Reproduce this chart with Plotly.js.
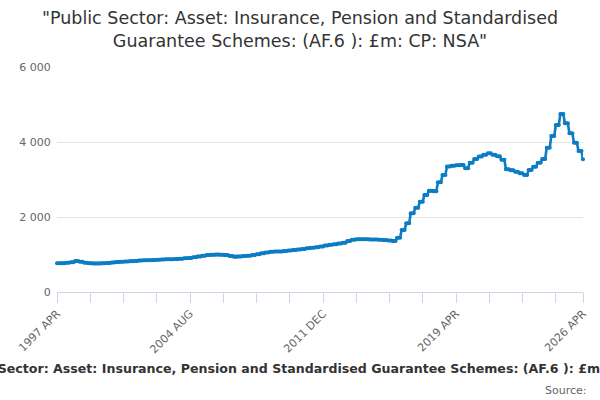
<!DOCTYPE html>
<html>
<head>
<meta charset="utf-8">
<script src="https://cdn.plot.ly/plotly-3.0.1.min.js"></script>
<style>
html,body{margin:0;padding:0;background:#fff;}
#chart{width:600px;height:400px;}
</style>
</head>
<body>
<div id="chart"></div>
<script>
// Month names used for category labels
var MONTH_NAMES = ["JAN","FEB","MAR","APR","MAY","JUN","JUL","AUG","SEP","OCT","NOV","DEC"];
var START_YEAR = 1997;
var START_MONTH = 3; // APR
var END_YEAR = 2026;
var END_MONTH = 3;   // APR

// Monthly values (£m), one row per year from APR to MAR
var values = [
  765,765,765, 770,770,770, 780,780,780, 795,795,795,
  825,825,825, 810,810,810, 780,780,780, 765,765,765,
  762,762,762, 760,760,760, 765,765,765, 775,775,775,
  790,790,790, 800,800,800, 808,808,808, 815,815,815,
  820,820,820, 830,830,830, 840,840,840, 845,845,845,
  848,848,848, 852,852,852, 858,858,858, 868,868,868,
  871,871,871, 872,872,872, 878,878,878, 890,890,890,
  900,900,900, 910,910,910, 925,925,925, 945,945,945,
  965,965,965, 990,990,990, 995,995,995, 1000,1000,1000,
  995,995,995, 985,985,985, 960,960,960, 942,942,942,
  948,948,948, 960,960,960, 970,970,970, 990,990,990,
  1010,1010,1010, 1035,1035,1035, 1055,1055,1055, 1076,1076,1076,
  1078,1078,1078, 1082,1082,1082, 1095,1095,1095, 1108,1108,1108,
  1120,1120,1120, 1135,1135,1135, 1150,1150,1150, 1165,1165,1165,
  1178,1178,1178, 1195,1195,1195, 1215,1215,1215, 1240,1240,1240,
  1260,1260,1260, 1275,1275,1275, 1295,1295,1295, 1315,1315,1315,
  1360,1360,1360, 1395,1395,1395, 1404,1404,1404, 1408,1408,1408,
  1405,1405,1405, 1400,1400,1400, 1400,1400,1400, 1395,1395,1395,
  1385,1385,1385, 1375,1375,1375, 1360,1360,1360, 1449,1449,1449,
  1653,1653,1653, 1831,1831,1831, 2098,2098,2098, 2249,2249,2249,
  2409,2409,2409, 2587,2587,2587, 2700,2700,2700, 2690,2690,2690,
  2924,2924,2924, 3120,3120,3120, 3350,3350,3350, 3370,3370,3370,
  3380,3380,3380, 3387,3387,3387, 3298,3298,3298, 3449,3449,3449,
  3545,3545,3545, 3615,3615,3615, 3660,3660,3660, 3698,3698,3698,
  3660,3660,3660, 3620,3620,3620, 3530,3530,3530, 3271,3271,3271,
  3250,3250,3250, 3210,3210,3210, 3164,3164,3164, 3120,3120,3120,
  3253,3253,3253, 3342,3342,3342, 3449,3449,3449, 3547,3547,3547,
  3849,3849,3849, 4160,4160,4160, 4453,4453,4453, 4747,4747,4747,
  4498,4498,4498, 4231,4231,4231, 3982,3982,3982, 3760,3760,3760,
  3538
];

// Labelled x ticks
var labelledTicks = ["1997 APR","2004 AUG","2011 DEC","2019 APR","2026 APR"];

var titleText = "\"Public Sector: Asset: Insurance, Pension and Standardised<br>Guarantee Schemes: (AF.6 ): £m: CP: NSA\"";
var axisTitleText = "Public Sector: Asset: Insurance, Pension and Standardised Guarantee Schemes: (AF.6 ): £m: CP: NSA";
var sourceText = "Source:";

// Build monthly category labels
var categories = [];
for (var y = START_YEAR; y <= END_YEAR; y++) {
  for (var m = 0; m < 12; m++) {
    if (y === START_YEAR && m < START_MONTH) continue;
    if (y === END_YEAR && m > END_MONTH) continue;
    categories.push(y + " " + MONTH_NAMES[m]);
  }
}

// Ticks every 22 categories plus the last one
var tickvals = [], ticktext = [];
for (var i = 0; i < categories.length; i += 22) {
  tickvals.push(categories[i]);
}
if (tickvals[tickvals.length - 1] !== categories[categories.length - 1]) {
  tickvals.push(categories[categories.length - 1]);
}
tickvals.forEach(function (c) {
  ticktext.push(labelledTicks.indexOf(c) >= 0 ? c : "");
});

var FONT = "DejaVu Sans, sans-serif";

var trace = {
  type: "scatter",
  mode: "lines+markers",
  x: categories,
  y: values,
  line: {color: "#0c7cc4", width: 2.6},
  marker: {color: "#0c7cc4", size: 4},
  cliponaxis: false,
  hoverinfo: "x+y"
};

var layout = {
  width: 600,
  height: 400,
  margin: {l: 57, r: 17, t: 67, b: 108},
  paper_bgcolor: "#ffffff",
  plot_bgcolor: "#ffffff",
  separators: ". ",
  showlegend: false,
  font: {family: FONT, color: "#666666", size: 11},
  title: {
    text: titleText,
    font: {family: FONT, size: 17.5, color: "#333333"},
    x: 0.5,
    xanchor: "center",
    xref: "container",
    y: 0.94,
    yref: "container",
    yanchor: "top"
  },
  xaxis: {
    type: "category",
    range: [0, categories.length - 1],
    autorange: false,
    tickmode: "array",
    tickvals: tickvals,
    ticktext: ticktext,
    tickangle: -45,
    ticks: "outside",
    ticklen: 10,
    tickcolor: "#ccd6eb",
    tickwidth: 1,
    showline: true,
    linecolor: "#ccd6eb",
    linewidth: 1,
    showgrid: false,
    zeroline: false,
    tickfont: {family: FONT, size: 11, color: "#666666"}
  },
  yaxis: {
    range: [0, 6000],
    autorange: false,
    tickvals: [0, 2000, 4000, 6000],
    tickformat: ",d",
    showgrid: true,
    gridcolor: "#e6e6e6",
    gridwidth: 1,
    zeroline: false,
    showline: false,
    ticks: "outside",
    ticklen: 3,
    tickcolor: "rgba(0,0,0,0)",
    tickfont: {family: FONT, size: 11, color: "#666666"}
  },
  annotations: [
    {
      text: "<b>" + axisTitleText + "</b>",
      xref: "paper", yref: "paper",
      x: 0.4788, y: -0.338,
      xanchor: "center", yanchor: "middle",
      showarrow: false,
      font: {family: FONT, size: 12.6, color: "#333333"}
    },
    {
      text: sourceText,
      xref: "paper", yref: "paper",
      x: 1.0107, y: -0.4356,
      xanchor: "right", yanchor: "middle",
      showarrow: false,
      font: {family: FONT, size: 11, color: "#666666"}
    }
  ]
};

Plotly.newPlot("chart", [trace], layout, {displayModeBar: false, staticPlot: true});
</script>
</body>
</html>
